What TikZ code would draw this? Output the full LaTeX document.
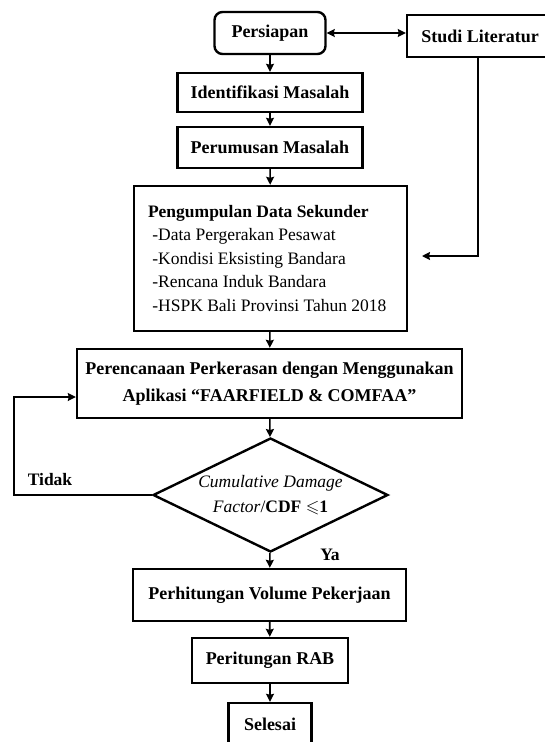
\documentclass[tikz,border=0pt]{standalone}
\usepackage{amssymb}
\usepackage{fontspec}
\setmainfont{Liberation Serif}
\usepackage{tikz}
\usetikzlibrary{shapes.geometric, arrows, arrows.meta, positioning}
\tikzstyle{arrow} = [line width=1.6pt,->,>={Stealth[length=8pt,width=8pt,inset=1pt]}]
\tikzset{every node/.style={align=center}}

\begin{document}
\begin{tikzpicture}[
    x=1pt, y=-1pt,
    box/.style={draw, line width=2.4pt, font=\bfseries\fontsize{18}{27}\selectfont},
    decision/.style={draw, diamond, line width=2.4pt, aspect=2.06, inner sep=0pt,
                     minimum width=235pt, minimum height=114pt, font=\fontsize{17.5}{25}\selectfont},
    lbl/.style={font=\bfseries\fontsize{17.5}{20}\selectfont}
]
  \useasboundingbox (0,0) rectangle (545,742);
  % Boxes
  \node (persiapan)   at (270,33)    [box, rounded corners=8pt, minimum width=111pt, minimum height=42pt] {Persiapan};
  \node (studi)       at (480,36)    [box, minimum width=146pt, minimum height=42pt] {Studi Literatur};
  \node (identifikasi) at (270,92.5) [box, minimum width=185pt, minimum height=39pt] {Identifikasi Masalah};
  \node (perumusan)   at (270,147.5) [box, minimum width=185pt, minimum height=41pt] {Perumusan Masalah};
  \node (pengumpulan) at (270.5,258.5) [box, minimum width=273pt, minimum height=145pt, inner xsep=14pt,
        text width=245pt, align=flush left, font=\fontsize{17.5}{23.5}\selectfont]
        {\textbf{Pengumpulan Data Sekunder}\\
         \ -Data Pergerakan Pesawat\\
         \ -Kondisi Eksisting Bandara\\
         \ -Rencana Induk Bandara\\
         \ -HSPK Bali Provinsi Tahun 2018};
  \node (perencanaan) at (269.5,383.5) [box, minimum width=385pt, minimum height=69pt]
        {Perencanaan Perkerasan dengan Menggunakan\\Aplikasi \textquotedblleft FAARFIELD \& COMFAA\textquotedblright};
  \node (cdf)         at (270.5,495) [decision]
        {\textit{Cumulative Damage}\\\textit{Factor}/\textbf{CDF} $\leqslant$\textbf{1}};
  \node (volume)      at (269.5,595) [box, minimum width=273pt, minimum height=52pt] {Perhitungan Volume Pekerjaan};
  \node (rab)         at (270,660.5) [box, minimum width=156pt, minimum height=45pt] {Peritungan RAB};
  \node (selesai)     at (270,724)   [box, minimum width=83pt, minimum height=42pt] {Selesai};
  % Labels
  \node (tidak) at (50,480)  [lbl] {Tidak};
  \node (ya)    at (330,555) [lbl] {Ya};
  % Helper points
  \coordinate (litend) at (422,256);
  \coordinate (loop)   at (14,397);
  % Arrows
  \draw[arrow,<->] (persiapan.east) -- (persiapan.east -| studi.west);
  \draw[arrow] (persiapan) -- (identifikasi);
  \draw[arrow] (identifikasi) -- (perumusan);
  \draw[arrow] (perumusan) -- (pengumpulan);
  \draw[arrow] (pengumpulan) -- (perencanaan);
  \draw[arrow] (perencanaan) -- (cdf);
  \draw[arrow] (cdf) -- (volume);
  \draw[arrow] (volume) -- (rab);
  \draw[arrow] (rab) -- (selesai);
  \draw[arrow] (studi.south -| 478,0) |- (litend);
  \draw[arrow] (cdf.west) -| (loop) -- (loop -| perencanaan.west);
\end{tikzpicture}
\end{document}
